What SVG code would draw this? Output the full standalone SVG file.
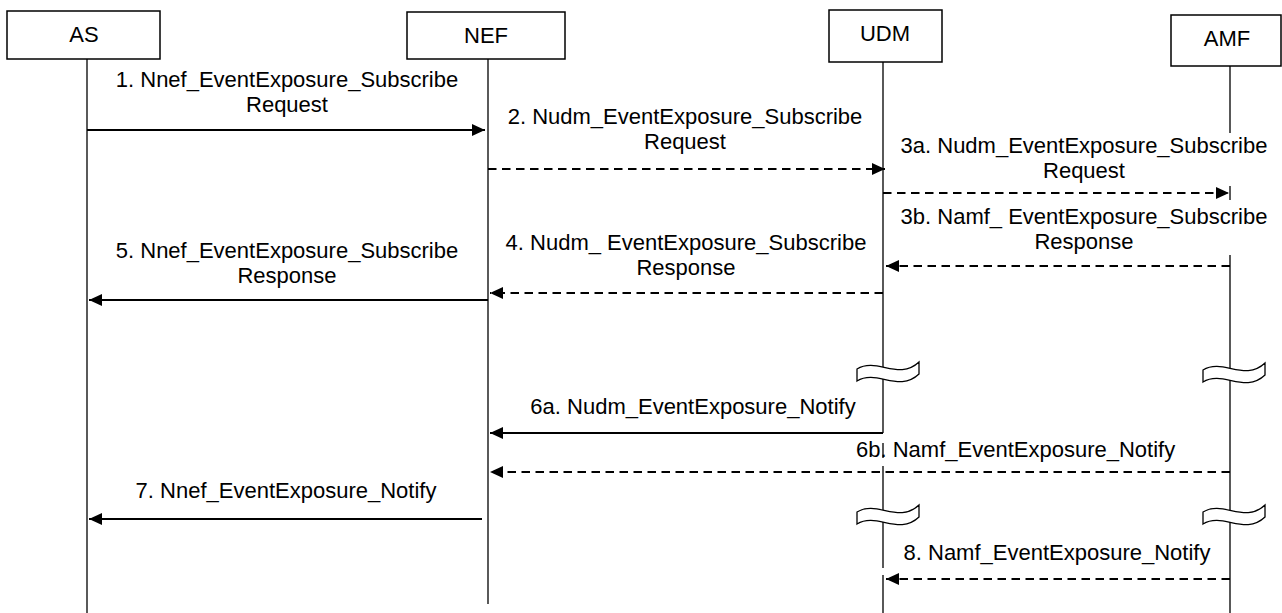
<svg xmlns="http://www.w3.org/2000/svg" width="1282" height="613" viewBox="0 0 1282 613">
<style>
text{font-family:"Liberation Sans",Arial,sans-serif;font-size:22px;fill:#000}
.c{text-anchor:middle}
.box{fill:#fff;stroke:#000;stroke-width:1.5}
.life{stroke:#000;stroke-width:1.3;fill:none}
.msg{stroke:#000;stroke-width:2;fill:none;marker-end:url(#ah)}
.dash{stroke-dasharray:8.5 5.5}
.brk{fill:#fff;stroke:#000;stroke-width:1.3}
</style>
<defs>
<marker id="ah" markerUnits="userSpaceOnUse" markerWidth="14" markerHeight="13" refX="13" refY="6" orient="auto"><path d="M0,0 L13,6 L0,12 Z" fill="#000"/></marker>
<path id="brkshape" d="M0,0 C20,-12 42,12 62,-7 L62,5 C42,24 20,0 0,12 Z"/>
</defs>
<rect width="1282" height="613" fill="#fff"/>
<g id="AS">
<rect class="box" x="7" y="11" width="153" height="48"/>
<text class="c" x="84" y="42">AS</text>
<line class="life" x1="87" y1="59" x2="87" y2="613"/>
</g>
<g id="NEF">
<rect class="box" x="407" y="12" width="158" height="47"/>
<text class="c" x="486" y="43">NEF</text>
<line class="life" x1="488" y1="59" x2="488" y2="604"/>
</g>
<g id="labels">
<text class="c" x="287" y="87">1. Nnef_EventExposure_Subscribe</text>
<text class="c" x="287" y="112">Request</text>
<text class="c" x="685" y="124">2. Nudm_EventExposure_Subscribe</text>
<text class="c" x="685" y="149">Request</text>
<text class="c" x="1084" y="153">3a. Nudm_EventExposure_Subscribe</text>
<text class="c" x="1084" y="178">Request</text>
<text class="c" x="1084" y="224">3b. Namf_ EventExposure_Subscribe</text>
<text class="c" x="1084" y="249">Response</text>
<text class="c" x="686" y="250">4. Nudm_ EventExposure_Subscribe</text>
<text class="c" x="686" y="275">Response</text>
<text class="c" x="287" y="258">5. Nnef_EventExposure_Subscribe</text>
<text class="c" x="287" y="283">Response</text>
<text class="c" x="693" y="414">6a. Nudm_EventExposure_Notify</text>
<text x="856" y="457">6b. Namf_EventExposure_Notify</text>
<text class="c" x="286" y="498">7. Nnef_EventExposure_Notify</text>
<text class="c" x="1057" y="560">8. Namf_EventExposure_Notify</text>
</g>
<g id="UDM">
<rect class="box" x="829" y="10" width="113" height="52"/>
<text class="c" x="885" y="41">UDM</text>
<path class="life" d="M883,62 V433 M883,443 V458 M883,466 V568 M883,575 V613"/>
<use class="brk" href="#brkshape" x="857" y="369"/>
<use class="brk" href="#brkshape" x="857" y="512"/>
</g>
<g id="AMF">
<rect class="box" x="1171" y="15" width="110" height="51"/>
<text class="c" x="1227" y="46">AMF</text>
<path class="life" d="M1230,66 V133 M1230,186 V200 M1230,255 V613"/>
<use class="brk" href="#brkshape" x="1203" y="370"/>
<use class="brk" href="#brkshape" x="1203" y="512"/>
</g>
<g id="connectors">
<line class="msg" x1="87" y1="130" x2="485" y2="130"/>
<line class="msg dash" x1="488" y1="169" x2="885" y2="169"/>
<line class="msg dash" x1="883" y1="193" x2="1229" y2="193"/>
<line class="msg dash" x1="1230" y1="266" x2="886" y2="266"/>
<line class="msg dash" x1="883" y1="293" x2="490" y2="293"/>
<line class="msg" x1="488" y1="300" x2="89" y2="300"/>
<line class="msg" x1="883" y1="433" x2="490" y2="433"/>
<line class="msg dash" x1="1230" y1="472" x2="490" y2="472"/>
<line class="msg" x1="482" y1="519" x2="89" y2="519"/>
<line class="msg dash" x1="1230" y1="579" x2="886" y2="579"/>
</g>
</svg>
